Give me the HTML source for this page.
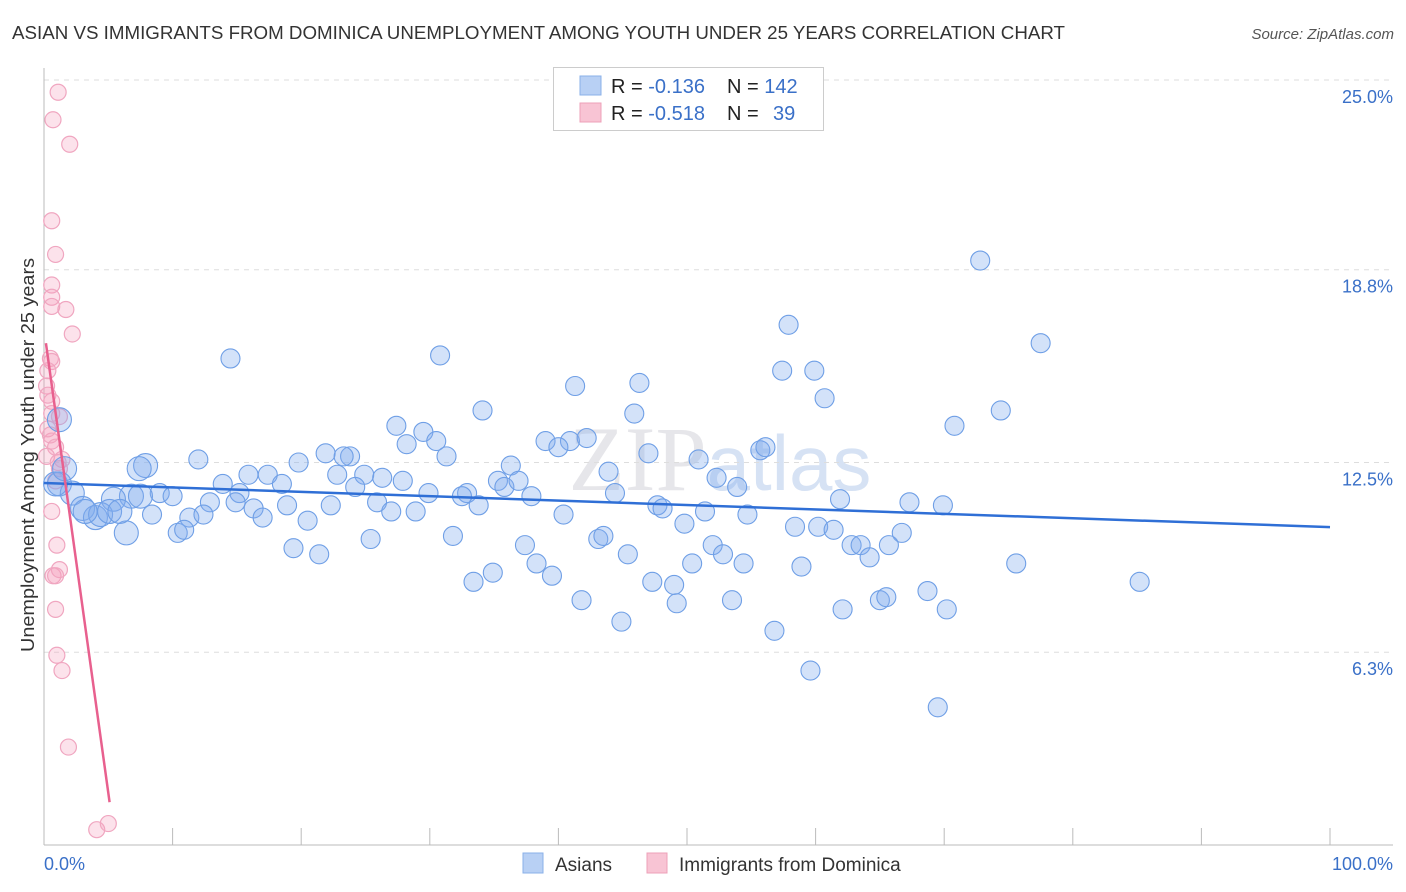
<!DOCTYPE html>
<html><head><meta charset="utf-8"><style>
body{margin:0;background:#fff;font-family:"Liberation Sans",sans-serif;}
svg{display:block}
</style></head><body>
<svg id="chart" width="1406" height="892" xmlns="http://www.w3.org/2000/svg">
<text x="12" y="39" font-size="18" fill="#333" textLength="1053" lengthAdjust="spacingAndGlyphs">ASIAN VS IMMIGRANTS FROM DOMINICA UNEMPLOYMENT AMONG YOUTH UNDER 25 YEARS CORRELATION CHART</text>
<text x="1394" y="39" font-size="15" fill="#555" font-style="italic" text-anchor="end">Source: ZipAtlas.com</text>
<text x="720" y="490" font-size="92" fill="#e6e6ea" text-anchor="middle" font-family="Liberation Serif">ZIP<tspan fill="#d6e2f4" font-family="Liberation Sans" font-size="78">atlas</tspan></text>
<g id="grid"></g>
<g id="axes"></g>
<g id="pts"></g>
<g id="trends"></g>
<text transform="translate(34,455) rotate(-90)" font-size="18" fill="#333" text-anchor="middle" textLength="394" lengthAdjust="spacingAndGlyphs">Unemployment Among Youth under 25 years</text>
<g>
<rect x="553.5" y="67.5" width="270" height="63" fill="#fff" stroke="#ccc"/>
<rect x="580" y="76" width="21" height="19" fill="#b8d0f4" stroke="#8ab0e8"/>
<rect x="580" y="103" width="21" height="19" fill="#f8c4d4" stroke="#eea0b8"/>
<text x="611" y="93" font-size="20" fill="#222">R = <tspan fill="#3a70c8">-0.136</tspan><tspan x="727">N = </tspan><tspan fill="#3a70c8">142</tspan></text>
<text x="611" y="120" font-size="20" fill="#222">R = <tspan fill="#3a70c8">-0.518</tspan><tspan x="727">N = </tspan><tspan fill="#3a70c8" x="773">39</tspan></text>
</g>
<g>
<rect x="523" y="853" width="20" height="20" fill="#b8d0f4" stroke="#8ab0e8"/>
<text x="555" y="871" font-size="19" fill="#333">Asians</text>
<rect x="647" y="853" width="20" height="20" fill="#f8c4d4" stroke="#eea0b8"/>
<text x="679" y="871" font-size="19" fill="#333">Immigrants from Dominica</text>
</g>
</svg>
<script>
const yTicks=[25.0,18.8,12.5,6.3];
const yTickLabels=["25.0%","18.8%","12.5%","6.3%"];
const xTickLabels=["0.0%","100.0%"];
const blueX=[72.8,77.5,57.9,14.5,30.8,41.3,46.3,57.4,59.9,60.7,74.4,70.8,34.1,45.9,27.4,29.5,28.2,30.5,39.0,40.9,42.2,40.0,47.0,55.7,56.1,31.3,21.9,23.8,23.3,12.0,7.9,7.4,19.8,36.3,43.9,50.9,52.3,53.9,15.9,17.4,22.8,24.9,26.3,27.9,13.9,15.2,18.5,24.2,35.3,35.8,36.9,32.9,37.9,44.4,29.9,32.5,61.9,67.3,69.9,6.8,9.0,10.0,5.4,12.9,14.9,16.3,18.9,22.3,25.9,27.0,28.9,33.8,47.7,48.1,51.4,54.7,17.0,20.5,11.3,12.4,8.4,6.4,10.4,10.9,40.4,49.8,58.4,60.2,61.4,66.7,25.4,31.8,37.4,43.1,43.5,52.0,19.4,21.4,45.4,52.8,62.8,63.5,64.2,65.7,38.3,50.4,54.4,58.9,75.6,34.9,39.5,33.4,47.3,49.0,85.2,41.8,49.2,53.5,62.1,65.0,65.5,68.7,70.2,44.9,56.8,59.6,69.5,1.2,2.2,3.0,4.0,4.4,5.1,5.9,1.2,0.9,7.5,3.2,1.6];
const blueY=[19.1,16.4,17.0,15.9,16.0,15.0,15.1,15.5,15.5,14.6,14.2,13.7,14.2,14.1,13.7,13.5,13.1,13.2,13.2,13.2,13.3,13.0,12.8,12.9,13.0,12.7,12.8,12.7,12.7,12.6,12.4,12.3,12.5,12.4,12.2,12.6,12.0,11.7,12.1,12.1,12.1,12.1,12.0,11.9,11.8,11.5,11.8,11.7,11.9,11.7,11.9,11.5,11.4,11.5,11.5,11.4,11.3,11.2,11.1,11.4,11.5,11.4,11.3,11.2,11.2,11.0,11.1,11.1,11.2,10.9,10.9,11.1,11.1,11.0,10.9,10.8,10.7,10.6,10.7,10.8,10.8,10.2,10.2,10.3,10.8,10.5,10.4,10.4,10.3,10.2,10.0,10.1,9.8,10.0,10.1,9.8,9.7,9.5,9.5,9.5,9.8,9.8,9.4,9.8,9.2,9.2,9.2,9.1,9.2,8.9,8.8,8.6,8.6,8.5,8.6,8.0,7.9,8.0,7.7,8.0,8.1,8.3,7.7,7.3,7.0,5.7,4.5,11.8,11.5,11.0,10.7,10.8,10.9,10.9,13.9,11.8,11.4,10.9,12.3];
const pinkX=[1.1,0.7,2.0,0.6,0.9,0.6,0.6,0.6,1.7,2.2,0.5,0.6,0.3,0.2,0.6,0.6,1.2,0.3,0.6,1.4,0.2,1.1,1.2,0.9,1.0,0.7,1.2,0.9,0.9,1.0,1.4,1.9,4.1,5.0,0.5,0.3,0.9,0.6];
const pinkY=[24.6,23.7,22.9,20.4,19.3,18.3,17.9,17.6,17.5,16.7,15.9,15.8,15.5,15.0,14.5,14.1,14.0,13.6,13.2,12.6,12.7,12.5,12.3,11.9,9.8,8.8,9.0,8.8,7.7,6.2,5.7,3.2,0.5,0.7,13.4,14.7,13.0,10.9];
const blueTrend=[[0,11.83],[100,10.39]];
const pinkTrend=[[0.15,16.4],[5.1,1.4]];
const X0=44,X1=1330,YB=845,PPY=30.6;
const sx=v=>X0+(X1-X0)*v/100, sy=v=>YB-v*PPY;
const NS="http://www.w3.org/2000/svg";
function mk(tag,attrs,parent){const e=document.createElementNS(NS,tag);for(const k in attrs)e.setAttribute(k,attrs[k]);document.getElementById(parent).appendChild(e);return e;}
yTicks.forEach((t,i)=>{
 const l=mk('line',{x1:X0,x2:1393,y1:sy(t),y2:sy(t),stroke:'#ddd','stroke-dasharray':'5,5'},'grid');
 
 
 const tx=mk('text',{x:1393,y:sy(t)+23,'font-size':18,fill:'#3a70c8','text-anchor':'end'},'grid');
 tx.textContent=yTickLabels[i];
 
 
});
let a=mk('line',{x1:X0,x2:X0,y1:68,y2:YB,stroke:'#bbb'},'axes');


a=mk('line',{x1:X0,x2:1393,y1:YB,y2:YB,stroke:'#bbb'},'axes');


for(let i=1;i<=10;i++){const t=mk('line',{x1:sx(i*10),x2:sx(i*10),y1:828,y2:YB,stroke:'#bbb'},'axes');
 
 }
let xl=mk('text',{x:44,y:870,'font-size':18,fill:'#3a70c8'},'axes');xl.textContent=xTickLabels[0];


xl=mk('text',{x:1393,y:870,'font-size':18,fill:'#3a70c8','text-anchor':'end'},'axes');xl.textContent=xTickLabels[1];


pinkX.forEach((v,i)=>{const c=mk('circle',{cx:sx(v),cy:sy(pinkY[i]),r:8,fill:'rgba(244,160,188,0.3)',stroke:'#f0a6c0','stroke-width':1.2},'pts');
 
 });
blueX.forEach((v,i)=>{const big=v<8;const c=mk('circle',{cx:sx(v),cy:sy(blueY[i]),r:big?12:9.5,fill:'rgba(130,172,238,0.35)',stroke:'#6f9fe6','stroke-width':1.1},'pts');
 
 });
let tl=mk('line',{x1:sx(blueTrend[0][0]),y1:sy(blueTrend[0][1]),x2:sx(blueTrend[1][0]),y2:sy(blueTrend[1][1]),stroke:'#2f6fd6','stroke-width':2.5},'trends');


tl=mk('line',{x1:sx(pinkTrend[0][0]),y1:sy(pinkTrend[0][1]),x2:sx(pinkTrend[1][0]),y2:sy(pinkTrend[1][1]),stroke:'#e8608e','stroke-width':2.5},'trends');


</script>
</body></html>
